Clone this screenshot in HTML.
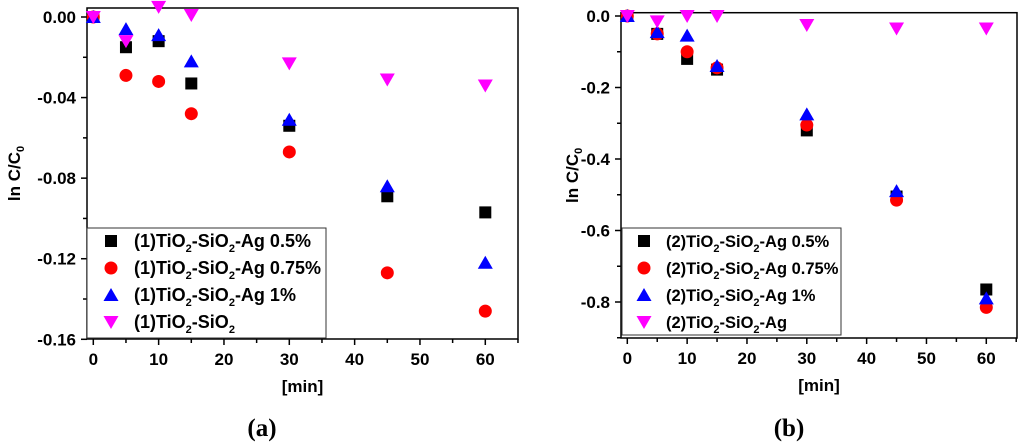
<!DOCTYPE html>
<html><head><meta charset="utf-8"><style>
html,body{margin:0;padding:0;background:#fff;}
svg{display:block;font-family:"Liberation Sans",Arial,sans-serif;}
.tk{font-size:17px;font-weight:bold;}
.lg{font-weight:bold;}
</style></head><body>
<svg id="s" width="1024" height="442" viewBox="0 0 1024 442"></svg>
<script>
const minutes=[0,5,10,15,30,45,60];
const a_s1=[0,-0.015,-0.012,-0.033,-0.054,-0.089,-0.097];
const a_s2=[0,-0.029,-0.032,-0.048,-0.067,-0.127,-0.146];
const a_s3=[0,-0.006,-0.009,-0.022,-0.051,-0.084,-0.122];
const a_s4=[0,-0.012,0.005,0.001,-0.023,-0.031,-0.034];
const b_s1=[0,-0.05,-0.12,-0.15,-0.32,-0.505,-0.765];
const b_s2=[0,-0.05,-0.10,-0.145,-0.305,-0.515,-0.815];
const b_s3=[0,-0.045,-0.055,-0.14,-0.275,-0.49,-0.79];
const b_s4=[0,-0.015,0,0,-0.025,-0.035,-0.035];
const xTicks=[0,10,20,30,40,50,60];
const a_yTicks=[0,-0.04,-0.08,-0.12,-0.16];
const a_yLabels=["0.00","-0.04","-0.08","-0.12","-0.16"];
const b_yTicks=[0,-0.2,-0.4,-0.6,-0.8];
const b_yLabels=["0.0","-0.2","-0.4","-0.6","-0.8"];
const a_names=["(1)TiO|2|-SiO|2|-Ag 0.5%","(1)TiO|2|-SiO|2|-Ag 0.75%","(1)TiO|2|-SiO|2|-Ag 1%","(1)TiO|2|-SiO|2|"];
const b_names=["(2)TiO|2|-SiO|2|-Ag 0.5%","(2)TiO|2|-SiO|2|-Ag 0.75%","(2)TiO|2|-SiO|2|-Ag 1%","(2)TiO|2|-SiO|2|-Ag"];
const colors=["#000","#f00","#00f","#f0f"];
const shapes=["sq","ci","tu","td"];
const NS="http://www.w3.org/2000/svg";
const svg=document.getElementById('s');
function el(t,at,p){const e=document.createElementNS(NS,t);for(const k in at)e.setAttribute(k,at[k]);(p||svg).appendChild(e);return e;}
function marker(g,shape,cx,cy,c){
 let m;
 if(shape==="sq")m=el('rect',{x:cx-6,y:cy-6,width:12,height:12,fill:c},g);
 else if(shape==="ci")m=el('circle',{cx:cx,cy:cy,r:6.5,fill:c},g);
 else if(shape==="tu")m=el('polygon',{points:`${cx},${cy-7} ${cx+7.5},${cy+6} ${cx-7.5},${cy+6}`,fill:c},g);
 else m=el('polygon',{points:`${cx-7.5},${cy-6} ${cx+7.5},${cy-6} ${cx},${cy+7}`,fill:c},g);
 return m;
}
function chart(P){
 const g=el('g',{});
 
 
 const X=v=>P.x0+(v-0)*(P.x60-P.x0)/60;
 const Y=v=>P.y0+(v/P.yref)*(P.yr-P.y0);
 const box=el('rect',{x:P.L,y:P.T,width:P.R-P.L,height:P.B-P.T,fill:'none',stroke:'#000','stroke-width':1.5},g);
 
 for(let v=0;v<=65;v+=5){const x=X(v);el('line',{x1:x,x2:x,y1:P.B,y2:P.B+(v%10===0?6:4),stroke:'#000','stroke-width':1.5},g);}
 xTicks.forEach(v=>{const t=el('text',{x:X(v),y:P.B+26,'text-anchor':'middle',class:'tk'},g);t.textContent=v;
  });
 const step=P.yTicks[1]-P.yTicks[0];
 for(let i=0;i<P.yTicks.length;i++){
  const v=P.yTicks[i];el('line',{x1:P.L-6,x2:P.L,y1:Y(v),y2:Y(v),stroke:'#000','stroke-width':1.5},g);
  const m=v+step/2; if(Y(m)<=P.B+1)el('line',{x1:P.L-4,x2:P.L,y1:Y(m),y2:Y(m),stroke:'#000','stroke-width':1.5},g);
  const t=el('text',{x:P.L-11,y:Y(v)+6,'text-anchor':'end',class:'tk'},g);t.textContent=P.yLabels[i];
  
 }
 const yl=el('text',{x:0,y:0,transform:`translate(${P.ylx},${(P.T+P.B)/2}) rotate(-90)`,'text-anchor':'middle',class:'tk'},g);
 yl.innerHTML='ln C/C<tspan font-size="11" dy="4">0</tspan>';
 
 const xl=el('text',{x:(P.L+P.R)/2+(P.xlo||0),y:P.B+53,'text-anchor':'middle',class:'tk'},g);xl.textContent='[min]';
 
 P.series.forEach((s,si)=>{
  const sg=el('g',{},g);
  
  s.forEach((v,i)=>{const m=marker(sg,shapes[si],X(minutes[i]),Y(v),colors[si]);
   });
 });
 const lg=el('g',{},g);
 
 el('rect',{x:P.lx,y:P.ly,width:P.lw,height:P.lh,fill:'#fff',stroke:'#333','stroke-width':1},lg);
 P.names.forEach((n,i)=>{
  const cy=P.ly+13+i*27;
  marker(lg,shapes[i],P.lx+P.mo,cy,colors[i]);
  const t=el('text',{x:P.lx+P.to,y:cy+6,class:'lg','font-size':P.lfs},lg);
  const parts=n.split('|');
  parts.forEach((p,k)=>{if(!p)return;const ts=el('tspan',{},t);ts.textContent=p;
   if(k%2===1){ts.setAttribute('font-size','11');ts.setAttribute('dy','5');}
   else if(k>0){ts.setAttribute('dy','-5');}});
  
 });
 const cap=el('text',{x:P.capx,y:436,'text-anchor':'middle','font-family':'Liberation Serif,serif','font-size':'25','font-weight':'bold'},g);
 cap.textContent=P.cap;
}
chart({name:'chart-a',L:87,T:8,R:518,B:339,x0:93.3,x60:485.3,y0:17,yr:339.3,yref:-0.16,
 yTicks:a_yTicks,yLabels:a_yLabels,series:[a_s1,a_s2,a_s3,a_s4],names:a_names,
 lx:87,ly:228,lw:239,lh:110,mo:24,to:47,lfs:18,ylx:20,cap:'(a)',capx:262});
chart({name:'chart-b',L:621,T:12.7,R:1017,B:338,x0:627.3,x60:986.3,y0:16,yr:302,yref:-0.8,
 yTicks:b_yTicks,yLabels:b_yLabels,series:[b_s1,b_s2,b_s3,b_s4],names:b_names,
 lx:622,ly:228,lw:219,lh:107,mo:22,to:44,lfs:16.5,ylx:578,cap:'(b)',capx:789});
</script>
</body></html>
